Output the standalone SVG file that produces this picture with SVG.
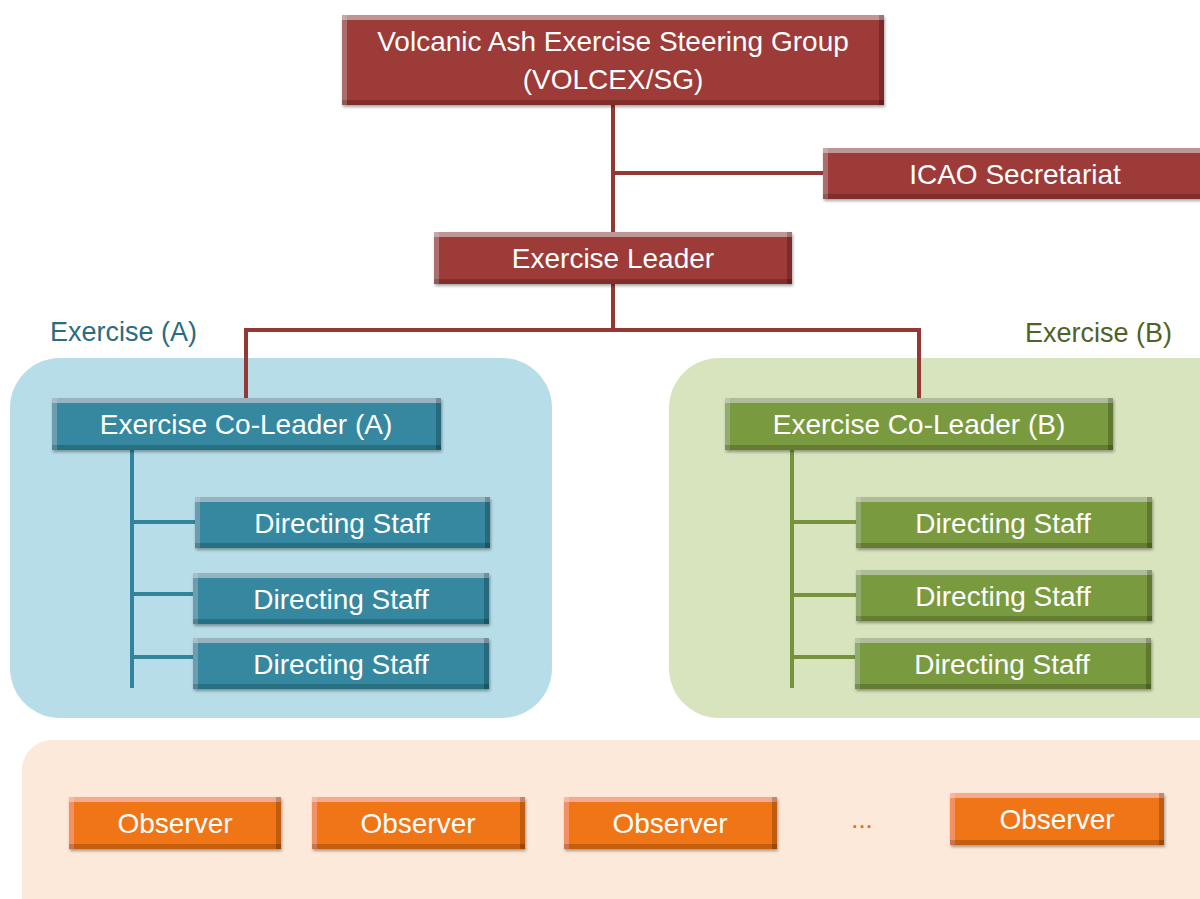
<svg xmlns="http://www.w3.org/2000/svg" width="1200" height="899" viewBox="0 0 1200 899">
<defs>
<filter id="bevel" x="-5%" y="-15%" width="112%" height="140%">
 <feOffset in="SourceAlpha" dx="0" dy="5" result="o1"/>
 <feComposite in="SourceAlpha" in2="o1" operator="out" result="topE"/>
 <feFlood flood-color="#ffffff" flood-opacity="0.28"/>
 <feComposite in2="topE" operator="in" result="hl"/>
 <feOffset in="SourceAlpha" dx="5" dy="0" result="o2"/>
 <feComposite in="SourceAlpha" in2="o2" operator="out" result="leftE"/>
 <feFlood flood-color="#ffffff" flood-opacity="0.12"/>
 <feComposite in2="leftE" operator="in" result="hl2"/>
 <feOffset in="SourceAlpha" dx="0" dy="-5" result="o3"/>
 <feComposite in="SourceAlpha" in2="o3" operator="out" result="botE"/>
 <feFlood flood-color="#000000" flood-opacity="0.35"/>
 <feComposite in2="botE" operator="in" result="dk"/>
 <feOffset in="SourceAlpha" dx="-5" dy="0" result="o4"/>
 <feComposite in="SourceAlpha" in2="o4" operator="out" result="rightE"/>
 <feFlood flood-color="#000000" flood-opacity="0.4"/>
 <feComposite in2="rightE" operator="in" result="dk2"/>
 <feOffset in="SourceAlpha" dx="1" dy="2" result="so"/>
 <feGaussianBlur in="so" stdDeviation="1.5" result="sb"/>
 <feFlood flood-color="#000000" flood-opacity="0.35"/>
 <feComposite in2="sb" operator="in" result="shadow"/>
 <feMerge>
  <feMergeNode in="shadow"/>
  <feMergeNode in="SourceGraphic"/>
  <feMergeNode in="hl"/>
  <feMergeNode in="hl2"/>
  <feMergeNode in="dk"/>
  <feMergeNode in="dk2"/>
 </feMerge>
</filter>
</defs>
<style>
 .box{filter:url(#bevel);}
 .red{fill:#9c3a39;}
 .teal{fill:#35889f;}
 .green{fill:#7a9a40;}
 .orange{fill:#f07414;}
 .t{font-family:"Liberation Sans",Arial,sans-serif;font-size:28px;fill:#ffffff;text-anchor:middle;}
 .lbl{font-family:"Liberation Sans",Arial,sans-serif;font-size:27px;}
 .cr{stroke:#953735;stroke-width:4;fill:none;}
 .ct{stroke:#31849b;stroke-width:4;fill:none;}
 .cg{stroke:#76923c;stroke-width:4;fill:none;}
</style>
<rect width="1200" height="899" fill="#ffffff"/>
<g id="panels">
 <rect id="panelA" x="10" y="358" width="542" height="360" rx="50" fill="#b7dde8"/>
 <rect id="panelB" x="669" y="358" width="600" height="360" rx="50" fill="#d7e4bd"/>
 <rect id="panelObs" x="22" y="740" width="1220" height="200" rx="30" fill="#fde9d9"/>
 <text id="labelA" class="lbl" x="50" y="341" fill="#2b6c80">Exercise (A)</text>
 <text id="labelB" class="lbl" x="1172" y="342" fill="#4f6228" text-anchor="end">Exercise (B)</text>
</g>
<g id="connectors">
 <path class="cr" d="M613 105 V232 M613 173 H823 M613 284 V330 M246 398 V330 H919 V398"/>
 <path class="ct" d="M132 450 V688 M132 522 H195 M132 594 H193 M132 657 H193"/>
 <path class="cg" d="M792 450 V688 M792 522 H856 M792 595 H856 M792 657 H855"/>
</g>
<g id="steering"><rect class="box red" x="342" y="15" width="542" height="90"/><text class="t" x="613" y="51">Volcanic Ash Exercise Steering Group</text><text class="t" x="613" y="89">(VOLCEX/SG)</text></g>
<g id="icao"><rect class="box red" x="823" y="148" width="390" height="51"/><text class="t" x="1015" y="184">ICAO Secretariat</text></g>
<g id="leader"><rect class="box red" x="434" y="232" width="358" height="52"/><text class="t" x="613" y="268">Exercise Leader</text></g>
<g id="coLeaderA"><rect class="box teal" x="52" y="398" width="389" height="52"/><text class="t" x="246" y="434">Exercise Co-Leader (A)</text></g>
<g id="coLeaderB"><rect class="box green" x="725" y="398" width="388" height="52"/><text class="t" x="919" y="434">Exercise Co-Leader (B)</text></g>
<g id="staffA1"><rect class="box teal" x="195" y="497" width="295" height="51"/><text class="t" x="342" y="533">Directing Staff</text></g>
<g id="staffA2"><rect class="box teal" x="193" y="573" width="296" height="51"/><text class="t" x="341" y="609">Directing Staff</text></g>
<g id="staffA3"><rect class="box teal" x="193" y="638" width="296" height="51"/><text class="t" x="341" y="674">Directing Staff</text></g>
<g id="staffB1"><rect class="box green" x="856" y="497" width="296" height="51"/><text class="t" x="1003" y="533">Directing Staff</text></g>
<g id="staffB2"><rect class="box green" x="856" y="570" width="296" height="51"/><text class="t" x="1003" y="606">Directing Staff</text></g>
<g id="staffB3"><rect class="box green" x="855" y="638" width="296" height="51"/><text class="t" x="1002" y="674">Directing Staff</text></g>
<g id="obs1"><rect class="box orange" x="69" y="797" width="212" height="52"/><text class="t" x="175" y="833">Observer</text></g>
<g id="obs2"><rect class="box orange" x="312" y="797" width="213" height="52"/><text class="t" x="418" y="833">Observer</text></g>
<g id="obs3"><rect class="box orange" x="564" y="797" width="213" height="52"/><text class="t" x="670" y="833">Observer</text></g>
<text id="ellipsis" x="862" y="828" font-family="Liberation Sans,Arial,sans-serif" font-size="26" fill="#e46c0a" text-anchor="middle">...</text>
<g id="obs4"><rect class="box orange" x="950" y="793" width="214" height="52"/><text class="t" x="1057" y="829">Observer</text></g>
</svg>
